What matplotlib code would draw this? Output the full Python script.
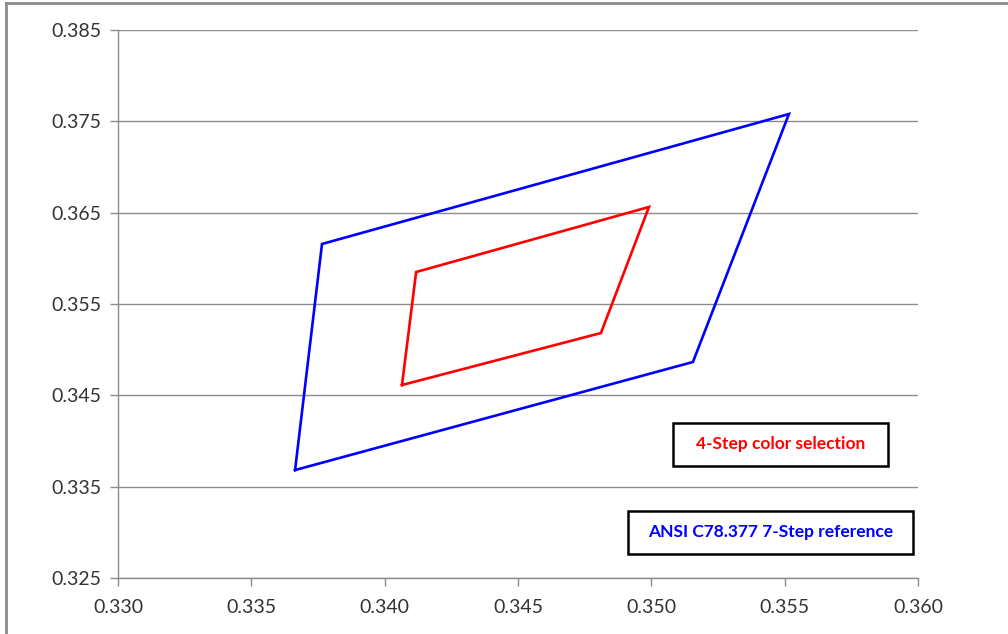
import matplotlib
matplotlib.use("Agg")
import matplotlib.pyplot as plt
from matplotlib.lines import Line2D
from matplotlib.patches import Rectangle

# Data
ansi_x = [0.33664, 0.33765, 0.35516, 0.35156, 0.33664]
ansi_y = [0.33682, 0.36157, 0.37580, 0.34865, 0.33682]
sel_x = [0.34065, 0.34118, 0.34991, 0.34811, 0.34065]
sel_y = [0.34613, 0.35850, 0.36562, 0.35182, 0.34613]
x_ticks = [0.330, 0.335, 0.340, 0.345, 0.350, 0.355, 0.360]
y_ticks = [0.325, 0.335, 0.345, 0.355, 0.365, 0.375, 0.385]
label_sel = "4-Step color selection"
label_ansi = "ANSI C78.377 7-Step reference"

plt.rcParams['font.family'] = ['Lato', 'DejaVu Sans']

fig = plt.figure(figsize=(10.08, 6.34), dpi=100)
W, H = 1008, 634
ax = fig.add_axes([118 / W, 1 - 578 / H, 800 / W, 548 / H])

ax.plot(ansi_x, ansi_y, color='#0000ff', lw=1.9, solid_joinstyle='miter', zorder=3)
ax.plot(sel_x, sel_y, color='#ff0000', lw=1.9, solid_joinstyle='miter', zorder=3)

ax.set_xlim(0.330, 0.360)
ax.set_ylim(0.325, 0.385)
ax.set_xticks(x_ticks)
ax.set_yticks(y_ticks)
ax.set_xticklabels([f"{v:.3f}" for v in x_ticks])
ax.set_yticklabels([f"{v:.3f}" for v in y_ticks])
ax.yaxis.grid(True, color='#8c8c8c', lw=1.0)
ax.set_axisbelow(True)
for s in ['top', 'right']:
    ax.spines[s].set_visible(False)
for s in ['left', 'bottom']:
    ax.spines[s].set_color('#8c8c8c')
    ax.spines[s].set_linewidth(1.0)
ax.tick_params(axis='both', colors='#8c8c8c', labelcolor='#333333', labelsize=14,
               length=6, width=1.0, direction='out')
ax.tick_params(axis='y', pad=6)
ax.tick_params(axis='x', pad=9)

# legend boxes (figure pixel coords)
def box(x0, y0, x1, y1, text, color):
    r = Rectangle((x0 / W, 1 - y1 / H), (x1 - x0) / W, (y1 - y0) / H,
                  transform=fig.transFigure, facecolor='white', edgecolor='black', lw=1.8)
    fig.add_artist(r)
    fig.text((x0 + x1) / 2 / W, 1 - (y0 + y1) / 2 / H, text, color=color,
             fontsize=12.5, fontweight='bold', ha='center', va='center')

box(673, 423, 888, 466, label_sel, '#ff0000')
box(628, 511, 913, 554, label_ansi, '#0000ff')

# outer frame
fig.add_artist(Line2D([6 / W, 6 / W], [0, 1 - 3 / H], transform=fig.transFigure, color='#8c8c8c', lw=2))
fig.add_artist(Line2D([6 / W, 1], [1 - 3 / H, 1 - 3 / H], transform=fig.transFigure, color='#8c8c8c', lw=2))

fig.savefig("out.png", dpi=100)
